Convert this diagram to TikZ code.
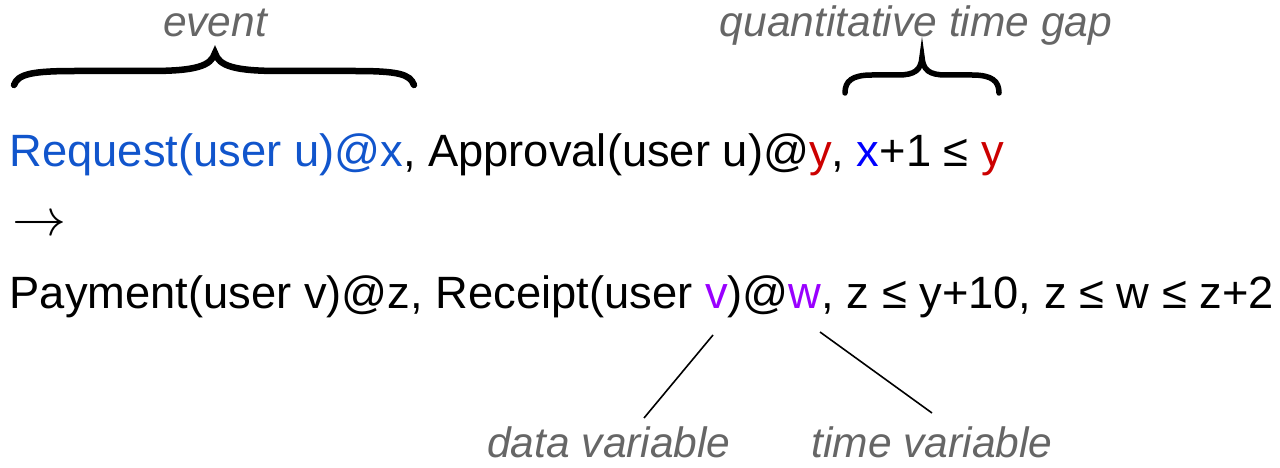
\documentclass[tikz,border=0pt]{standalone}
\usepackage{fontspec}
\setmainfont{Liberation Sans}
\definecolor{reqblue}{HTML}{1155CC}
\definecolor{xblue}{HTML}{0000FF}
\definecolor{yred}{HTML}{CC0000}
\definecolor{varpurple}{HTML}{9900FF}
\definecolor{notegray}{HTML}{666666}
\tikzset{
  formula/.style={anchor=base west, inner sep=0pt, font=\fontsize{45.3}{54}\selectfont},
  note/.style={anchor=base, inner sep=0pt, text=notegray, font=\fontsize{42.5}{50}\selectfont\itshape},
  bracepath/.style={draw=black, line width=6pt, line cap=round, line join=miter},
  pointer/.style={draw=black, line width=1.6pt}
}
\begin{document}
\begin{tikzpicture}[x=1pt, y=-1pt]
  \useasboundingbox (0,0) rectangle (1280,468);

  % rule text
  \node[formula] (premise) at (9.5,167)
    {\textcolor{reqblue}{Request(user u)@x}, Approval(user u)@\textcolor{yred}{y}, \textcolor{xblue}{x}+1 ≤ \textcolor{yred}{y}};
  \node[anchor=west, inner sep=0pt] (implies) at (12,226) {\scalebox{5.4}[5.2]{$\rightarrow$}};
  \node[formula] (conclusion) at (9.5,308)
    {Payment(user v)@z, Receipt(user \textcolor{varpurple}{v})@\textcolor{varpurple}{w}, z ≤ y+10, z ≤ w ≤ z+2};

  % annotations
  \node[note] (event) at (215,37) {event};
  \node[note] (gap) at (916,37) {quantitative time gap};
  \node[note] (datavar) at (609,457) {data variable};
  \node[note] (timevar) at (932,457) {time variable};

  % brace over the first event
  \draw[bracepath, line width=6.5pt]
    (14,85) .. controls (18,74) and (32,71) .. (75,71)
    -- (150,71) .. controls (196,71) and (211,66) .. (215,53)
    .. controls (219,66) and (234,71) .. (280,71)
    -- (355,71) .. controls (398,71) and (410,74) .. (414,85);

  % brace over the time constraint
  \draw[bracepath, line width=5.5pt]
    (845,93) .. controls (845,81) and (852,75) .. (872,75)
    -- (898,75) .. controls (915,75) and (921,70) .. (922,57)
    .. controls (923,70) and (929,75) .. (946,75)
    -- (972,75) .. controls (992,75) and (999,81) .. (999,93);

  % pointers to the variables
  \coordinate (vtop) at (713,335);
  \coordinate (vbot) at (644,418);
  \coordinate (wtop) at (820,332);
  \coordinate (wbot) at (932,413);
  \draw[pointer] (vtop) -- (vbot);
  \draw[pointer] (wtop) -- (wbot);
\end{tikzpicture}
\end{document}
